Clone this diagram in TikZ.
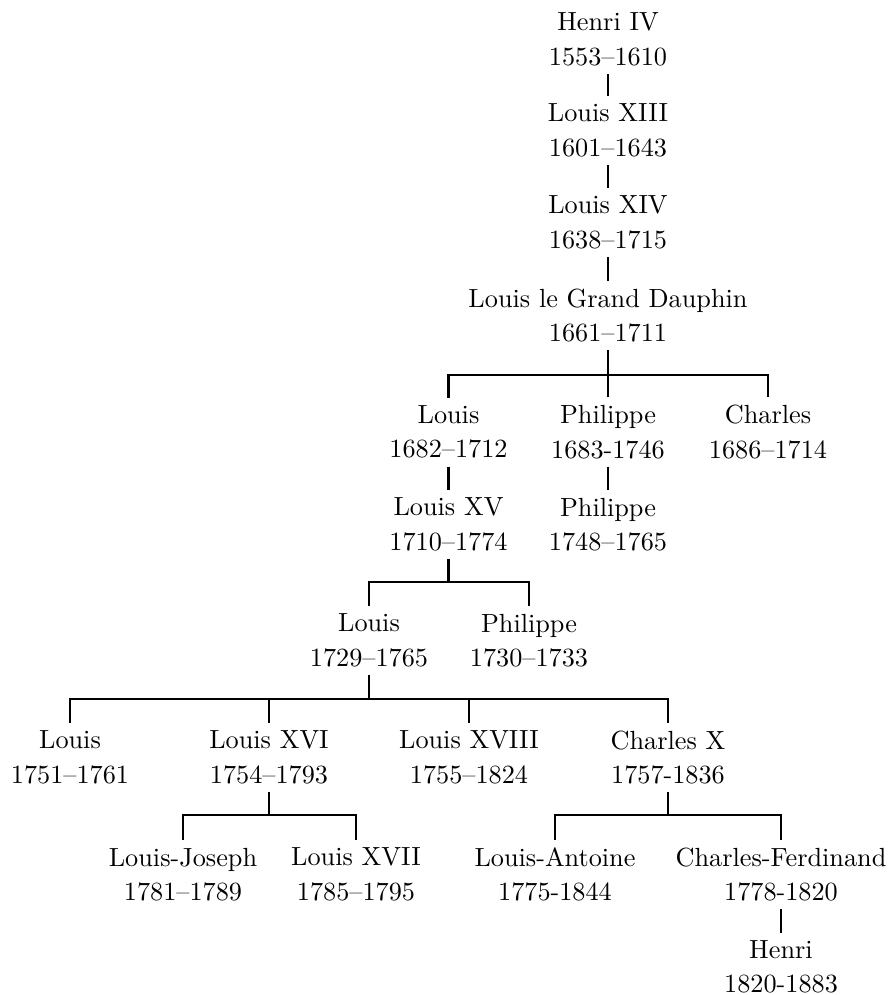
\documentclass[tikz,border=0pt]{standalone}
\begin{document}
\begin{tikzpicture}[x=0.4pt,y=-0.4pt,
  person/.style={align=center,inner sep=3pt,font=\fontsize{10.5}{13.8}\selectfont},
  link/.style={line width=1.05pt}]
\useasboundingbox (0,0) rectangle (888,995);
% generations
\node[person] (henriIV)   at (608,39.5)  {Henri IV\\1553--1610};
\node[person] (louisXIII) at (608,130.5) {Louis XIII\\1601--1643};
\node[person] (louisXIV)  at (608,222.5) {Louis XIV\\1638--1715};
\node[person] (dauphin)   at (608,315.5) {Louis le Grand Dauphin\\1661--1711};
\node[person] (louisB)    at (448.5,432) {Louis\\1682--1712};
\node[person] (philippeA) at (608,432)   {Philippe\\1683-1746};
\node[person] (charlesA)  at (768,432)   {Charles\\1686--1714};
\node[person] (louisXV)   at (448.5,524.5) {Louis XV\\1710--1774};
\node[person] (philippeB) at (608,524.5) {Philippe\\1748--1765};
\node[person] (louisC)    at (369,640.5) {Louis\\1729--1765};
\node[person] (philippeC) at (529,640.5) {Philippe\\1730--1733};
\node[person] (louisD)    at (70,757.5)  {Louis\\1751--1761};
\node[person] (louisXVI)  at (269,757.5) {Louis XVI\\1754--1793};
\node[person] (louisXVIII) at (469,757.5) {Louis XVIII\\1755--1824};
\node[person] (charlesX)  at (668,757.5) {Charles X\\1757-1836};
\node[person] (louisJ)    at (183,874.5) {Louis-Joseph\\1781--1789};
\node[person] (louisXVII) at (356,874.5) {Louis XVII\\1785--1795};
\node[person] (louisAnt)  at (555,874.5) {Louis-Antoine\\1775-1844};
\node[person] (charlesF)  at (781,874.5) {Charles-Ferdinand\\1778-1820};
\node[person] (henri)     at (781,967)   {Henri\\1820-1883};
% single descents
\draw[link] (henriIV.south) -- (louisXIII.north);
\draw[link] (louisXIII.south) -- (louisXIV.north);
\draw[link] (louisXIV.south) -- (dauphin.north);
\draw[link] (louisB.south) -- (louisXV.north);
\draw[link] (philippeA.south) -- (philippeB.north);
\draw[link] (charlesF.south) -- (henri.north);
% bars
\coordinate (barA) at (608,375);
\draw[link] (dauphin.south) -- (barA);
\draw[link] (louisB.north) -- (louisB.north |- barA) -- (charlesA.north |- barA) -- (charlesA.north);
\draw[link] (philippeA.north) -- (barA);
\coordinate (barB) at (448.5,582);
\draw[link] (louisXV.south) -- (barB);
\draw[link] (louisC.north) -- (louisC.north |- barB) -- (philippeC.north |- barB) -- (philippeC.north);
\coordinate (barC) at (369,699);
\draw[link] (louisC.south) -- (barC);
\draw[link] (louisD.north) -- (louisD.north |- barC) -- (charlesX.north |- barC) -- (charlesX.north);
\draw[link] (louisXVI.north) -- (louisXVI.north |- barC);
\draw[link] (louisXVIII.north) -- (louisXVIII.north |- barC);
\coordinate (barD) at (269,815);
\draw[link] (louisXVI.south) -- (barD);
\draw[link] (louisJ.north) -- (louisJ.north |- barD) -- (louisXVII.north |- barD) -- (louisXVII.north);
\coordinate (barE) at (668,815);
\draw[link] (charlesX.south) -- (barE);
\draw[link] (louisAnt.north) -- (louisAnt.north |- barE) -- (charlesF.north |- barE) -- (charlesF.north);
\end{tikzpicture}
\end{document}
